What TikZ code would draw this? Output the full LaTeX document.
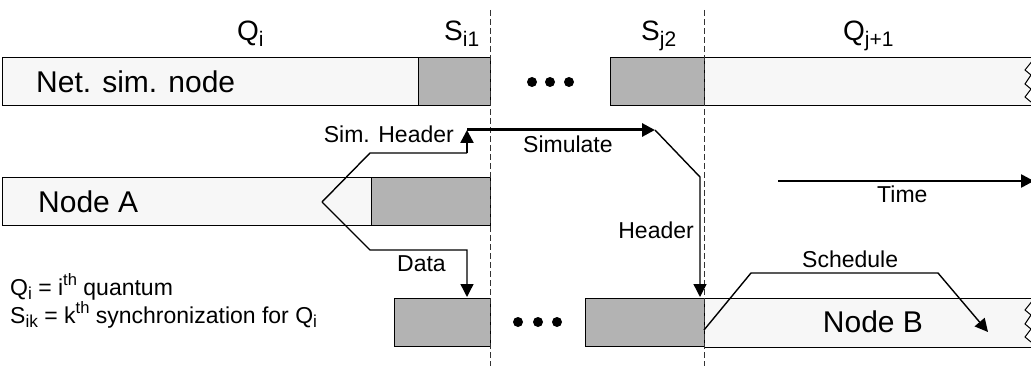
\documentclass[tikz,border=0pt]{standalone}
\usepackage{fontspec}
\setmainfont{Liberation Sans}
\usetikzlibrary{arrows.meta}
\definecolor{lightf}{HTML}{F7F7F7}
\definecolor{grayf}{HTML}{B3B3B3}
\newcommand\lo[1]{\raisebox{-0.2em}{\scalebox{0.75}{#1}}}
\newcommand\hi[1]{\raisebox{0.42em}{\scalebox{0.72}{#1}}}
\begin{document}
\begin{tikzpicture}[x=1pt,y=-1pt,
 lbox/.style={draw=black,fill=lightf,line width=1pt,inner sep=0pt,outer sep=0pt,anchor=north west,minimum height=48pt},
 gbox/.style={lbox,fill=grayf},
 big/.style={font=\fontsize{30}{36}\selectfont,inner sep=0pt},
 hdr/.style={font=\fontsize{28}{34}\selectfont,inner sep=0pt,anchor=base west},
 lbl/.style={font=\fontsize{23}{28}\selectfont,inner sep=0pt},
 leg/.style={font=\fontsize{23}{28}\selectfont,inner sep=0pt,anchor=base west},
 sep/.style={line width=1pt,dash pattern=on 6pt off 3pt,draw=black!80},
 conn/.style={line width=1.4pt},
 tip/.style={-{Triangle[length=13pt,width=13pt]}},
 dot/.style={circle,fill=black,inner sep=0pt,minimum size=10pt},
]
\useasboundingbox (0,0) rectangle (1031,366);

% top row
\node[lbox,minimum width=416pt] (nsL) at (2,58) {};
\node[gbox,minimum width=72pt] (nsS1) at (418,58) {};
\node[gbox,minimum width=94pt] (nsS2) at (610,58) {};
\fill[lightf] (704,58) -- (1031,58) -- (1031,62) -- (1025,70) -- (1031,75) -- (1025,84) -- (1031,89) -- (1025,97) -- (1031,102) -- (1031,106) -- (704,106) -- cycle;
\draw[line width=1pt] (1031,58) -- (704,58) -- (704,106) -- (1031,106);
\draw[line width=1pt] (1033,60) -- (1025,70) -- (1031,75) -- (1025,84) -- (1031,89) -- (1025,97) -- (1031,102);
\node[dot] (t1) at (532,82) {};
\node[dot] (t2) at (550,82) {};
\node[dot] (t3) at (569,82) {};
\node[big,anchor=west] (nsT) at (36,82) {Net. sim. node};

% node A row
\node[lbox,minimum width=369pt] (aL) at (2,178) {};
\node[gbox,minimum width=119pt] (aS) at (371,178) {};
\node[big,anchor=west] (aT) at (38,202) {Node A};

% node B row
\node[gbox,minimum width=96pt] (bS1) at (394,298) {};
\node[gbox,minimum width=119pt] (bS2) at (585,298) {};
\fill[lightf] (704,298) -- (1031,298) -- (1031,302) -- (1025,310) -- (1031,315) -- (1025,324) -- (1031,329) -- (1025,337) -- (1031,342) -- (1031,347) -- (704,347) -- cycle;
\draw[line width=1pt] (1031,298) -- (704,298) -- (704,347) -- (1031,347);
\draw[line width=1pt] (1033,300) -- (1025,310) -- (1031,315) -- (1025,324) -- (1031,329) -- (1025,337) -- (1031,342);
\node[dot] (b1) at (518,322) {};
\node[dot] (b2) at (538,322) {};
\node[dot] (b3) at (557,322) {};
\node[big] (bT) at (873,322) {Node B};

% dashed separators
\coordinate (s1t) at (490,10); \coordinate (s1b) at (490,366);
\coordinate (s2t) at (704,10); \coordinate (s2b) at (704,366);
\draw[sep] (s1t) -- (s1b);
\draw[sep] (s2t) -- (s2b);

% header labels
\node[hdr] (lQi) at (237,41) {Q\lo{i}};
\node[hdr] (lSi1) at (444,41) {S\lo{i1}};
\node[hdr] (lSj2) at (641,41) {S\lo{j2}};
\node[hdr] (lQj) at (843,41) {Q\lo{j+1}};

% connectors
\coordinate (split) at (322,202);
\coordinate (sh1) at (370,153);
\coordinate (sh2) at (467,153);
\coordinate (sh3) at (467,130);
\coordinate (sim2) at (655,130);
\coordinate (h1) at (700,177);
\coordinate (h2) at (700,297);
\coordinate (dd1) at (370,250);
\coordinate (dd2) at (467,250);
\coordinate (dd3) at (467,297);
\coordinate (sc0) at (704,330);
\coordinate (sc1) at (751,273);
\coordinate (sc2) at (938,273);
\coordinate (sc3) at (988,332);
\coordinate (tm0) at (778,181);
\coordinate (tm1) at (1034,181);

\draw[conn] (split) -- (sh1) -- (sh2);
\draw[line width=2.5pt,tip] (sh2) -- (sh3);
\draw[line width=3pt,tip] (sh3) -- (sim2);
\draw[conn,tip] (sim2) -- (h1) -- (h2);
\draw[conn,tip] (split) -- (dd1) -- (dd2) -- (dd3);
\draw[conn,tip] (sc0) -- (sc1) -- (sc2) -- (sc3);
\draw[line width=2.5pt,tip] (tm0) -- (tm1);

% connector labels
\node[lbl,anchor=base east] (lSH) at (454,143) {Sim. Header};
\node[lbl,anchor=base west] (lSim) at (523,153) {Simulate};
\node[lbl,anchor=base east] (lHd) at (694,239) {Header};
\node[lbl,anchor=base west] (lDt) at (397,272) {Data};
\node[lbl,anchor=base west] (lTm) at (877,203) {Time};
\node[lbl,anchor=base west] (lSc) at (802,267) {Schedule};

% legend
\node[leg] (lg1) at (10,295) {Q\lo{i} = i\hi{th} quantum};
\node[leg] (lg2) at (10,323) {S\lo{ik} = k\hi{th} synchronization for Q\lo{i}};
\end{tikzpicture}
\end{document}
